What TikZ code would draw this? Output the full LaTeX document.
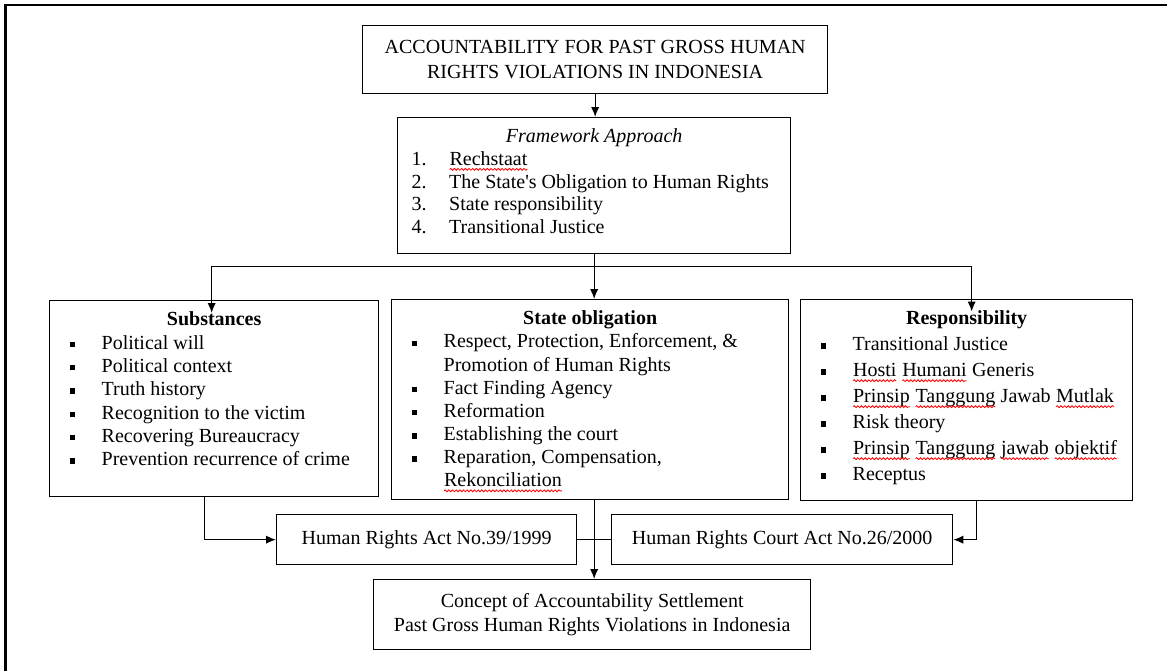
\documentclass[tikz,border=0pt]{standalone}
\usepackage{fontspec}
\setmainfont{Liberation Serif}
\usetikzlibrary{positioning}
\usetikzlibrary{calc}
\usetikzlibrary{arrows.meta}
\usetikzlibrary{decorations.pathmorphing}

\newdimen\px
\px=0.6pt
\newcommand{\wavy}[1]{\tikz[baseline=(w.base)]{\node[inner sep=0pt,outer sep=0pt] (w) {#1};
	\draw[red,line width=0.5pt,decorate,decoration={snake,amplitude=0.55pt,segment length=2.2pt}]
		([yshift=-2.4pt]w.base west) -- ([yshift=-2.4pt]w.base east);}}
\newcommand{\sqbullet}{\rule[1.2pt]{3.2pt}{3.2pt}}
\newcommand{\numitem}[2]{\hspace*{14\px}\makebox[37.5\px][l]{#1}#2\par}
\newcommand{\bulitem}[1]{\hangindent=52\px\hangafter=1\hspace*{20\px}\makebox[32\px][l]{\sqbullet}#1\par}
\newcommand{\boxtitle}[1]{{\centering\rule{0pt}{25\px}#1\par}}

\begin{document}
\begin{tikzpicture}[x=0.6pt,y=-0.6pt,
	box/.style={rectangle,draw,line width=0.8pt,inner sep=0pt,anchor=north west},
	plainbox/.style={box,align=center,font=\fontsize{12}{14}\selectfont},
	link/.style={line width=0.8pt},
	arrow/.style={link,-{Latex[length=6pt,width=5pt]}}]
	\useasboundingbox (0,0) rectangle (1167,671);
	\draw[line width=1.3pt] (5.5,671) -- (5.5,5) -- (1167,5);

	\node [plainbox,minimum width=465\px,minimum height=68\px,font=\fontsize{12}{15}\selectfont] (title) at (362,25)
		{ACCOUNTABILITY FOR PAST GROSS HUMAN\\RIGHTS VIOLATIONS IN INDONESIA};
	\node [box] (fw) at (397,117) {\parbox[c][136\px][t]{393\px}{\fontsize{12}{13.6}\selectfont
		\boxtitle{\textit{Framework Approach}}
		\numitem{1.}{\wavy{Rechstaat}}
		\numitem{2.}{The State\textquotesingle s Obligation to Human Rights}
		\numitem{3.}{State responsibility}
		\numitem{4.}{Transitional Justice}}};
	\node [box] (subst) at (49,300) {\parbox[c][196\px][t]{329\px}{\fontsize{12}{14}\selectfont
		\boxtitle{\textbf{Substances}}
		\bulitem{Political will}
		\bulitem{Political context}
		\bulitem{Truth history}
		\bulitem{Recognition to the victim}
		\bulitem{Recovering Bureaucracy}
		\bulitem{Prevention recurrence of crime}}};
	\node [box] (so) at (391,299) {\parbox[c][200\px][t]{397\px}{\fontsize{12}{13.9}\selectfont
		\boxtitle{\textbf{State obligation}}
		\bulitem{Respect, Protection, Enforcement, \&\\Promotion of Human Rights}
		\bulitem{Fact Finding Agency}
		\bulitem{Reformation}
		\bulitem{Establishing the court}
		\bulitem{Reparation, Compensation,\\\wavy{Rekonciliation}}}};
	\node [box] (resp) at (800,299) {\parbox[c][201\px][t]{332\px}{\fontsize{12}{15.6}\selectfont
		\boxtitle{\textbf{Responsibility}}
		\bulitem{Transitional Justice}
		\bulitem{\wavy{Hosti} \wavy{Humani} Generis}
		\bulitem{\wavy{Prinsip} \wavy{Tanggung} Jawab \wavy{Mutlak}}
		\bulitem{Risk theory}
		\bulitem{\wavy{Prinsip} \wavy{Tanggung} \wavy{jawab} \wavy{objektif}}
		\bulitem{Receptus}}};
	\node [plainbox,minimum width=300\px,minimum height=50\px] (act1) at (276,514) {Human Rights Act No.39/1999};
	\node [plainbox,minimum width=341\px,minimum height=50\px] (act2) at (611,514) {Human Rights Court Act No.26/2000};
	\node [plainbox,minimum width=437\px,minimum height=70\px] (concept) at (373,579)
		{Concept of Accountability Settlement\\Past Gross Human Rights Violations in Indonesia};

	\coordinate (split) at ($(fw.south)+(0,12)$);
	\coordinate (substin) at ($(subst.north)+(-2.5,13)$);
	\coordinate (respin) at ($(resp.north)+(5,12.5)$);
	\coordinate (substout) at ($(subst.south)+(-9.5,0)$);
	\coordinate (respout) at ($(resp.south)+(9.5,0)$);

	\draw[arrow] (title.south) -- (title.south |- fw.north);
	\draw[arrow] (fw.south) -- (fw.south |- so.north);
	\draw[arrow] (split) -| (substin);
	\draw[arrow] (split) -| (respin);
	\draw[arrow] (substout) |- (act1.west);
	\draw[arrow] (respout) |- (act2.east);
	\draw[link] (act1.east) -- (act2.west);
	\draw[arrow] (fw.south |- so.south) -- (fw.south |- concept.north);
\end{tikzpicture}
\end{document}
